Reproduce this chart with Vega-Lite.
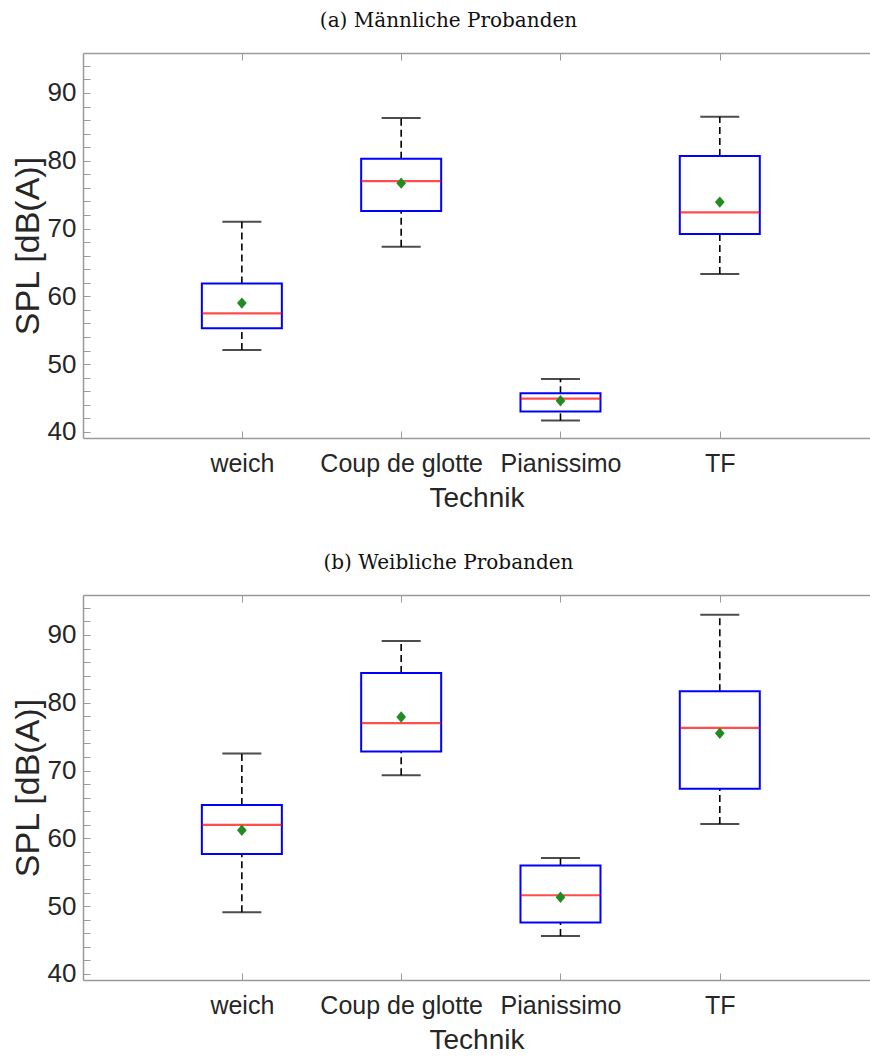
{
  "$schema": "https://vega.github.io/schema/vega-lite/v6.json",
  "padding": {"left": 11, "top": 10, "right": 0, "bottom": 0},
  "background": "white",
  "spacing": 40,
  "config": {
    "font": "Liberation Sans",
    "view": {"stroke": "transparent", "strokeWidth": 0},
    "style": {"cell": {"stroke": "transparent", "strokeWidth": 0}},
    "axis": {
      "labelFont": "Liberation Sans", "titleFont": "Liberation Sans",
      "labelColor": "#262626", "titleColor": "#262626",
      "domainColor": "#9a9a9a", "tickColor": "#9a9a9a", "domainWidth": 1.5, "tickWidth": 1,
      "grid": false, "labelFontSize": 25, "titleFontSize": 28, "titleFontWeight": "normal",
      "tickSize": -7
    },
    "axisY": {"titleFontSize": 34, "labelFontSize": 26, "labelPadding": 14, "titlePadding": 2, "domainColor": "transparent", "tickColor": "transparent"},
    "axisRight": {"domain": false, "ticks": false, "labels": false, "domainOpacity": 0, "tickOpacity": 0, "labelOpacity": 0},
    "title": {"font": "DejaVu Serif", "fontSize": 20, "fontWeight": "normal", "color": "#111111", "dx": -28, "offset": 22}
  },
  "datasets": {
    "stats": [
      {"Gruppe": "a", "Technik": "weich", "lo": 52.1, "q1": 55.3, "median": 57.5, "q3": 61.9, "hi": 71.0, "mean": 59.0},
      {"Gruppe": "a", "Technik": "Coup de glotte", "lo": 67.3, "q1": 72.6, "median": 77.0, "q3": 80.3, "hi": 86.3, "mean": 76.7},
      {"Gruppe": "a", "Technik": "Pianissimo", "lo": 41.7, "q1": 43.0, "median": 44.9, "q3": 45.7, "hi": 47.8, "mean": 44.6},
      {"Gruppe": "a", "Technik": "TF", "lo": 63.3, "q1": 69.2, "median": 72.4, "q3": 80.7, "hi": 86.5, "mean": 73.9},
      {"Gruppe": "b", "Technik": "weich", "lo": 49.1, "q1": 57.7, "median": 62.0, "q3": 64.9, "hi": 72.5, "mean": 61.2},
      {"Gruppe": "b", "Technik": "Coup de glotte", "lo": 69.3, "q1": 72.8, "median": 77.0, "q3": 84.4, "hi": 89.1, "mean": 77.9},
      {"Gruppe": "b", "Technik": "Pianissimo", "lo": 45.6, "q1": 47.6, "median": 51.6, "q3": 56.0, "hi": 57.1, "mean": 51.3},
      {"Gruppe": "b", "Technik": "TF", "lo": 62.1, "q1": 67.3, "median": 76.3, "q3": 81.7, "hi": 93.0, "mean": 75.5}
    ]
  },
  "vconcat": [
    {
      "title": {"text": "(a) Männliche Probanden"},
      "width": 787, "height": 385,
      "data": {"name": "stats"},
      "transform": [{"filter": "datum.Gruppe === 'a'"}],
      "resolve": {"axis": {"x": "independent", "y": "independent"}},
      "layer": [
        {
          "mark": {"type": "rule", "color": "black", "strokeWidth": 1.6, "strokeDash": [7, 4]},
          "encoding": {
            "x": {"field": "Technik", "type": "nominal", "sort": ["weich", "Coup de glotte", "Pianissimo", "TF"], "scale": {"type": "point", "padding": 0.97, "align": 0.514},
              "axis": {"orient": "bottom", "title": "Technik", "labelAngle": 0, "labelPadding": 20, "titlePadding": 8}},
            "y": {"field": "lo", "type": "quantitative", "scale": {"domain": [39.1, 95.9], "nice": false, "zero": false},
              "axis": {"orient": "left", "title": "SPL [dB(A)]", "domainColor": "#9a9a9a", "tickColor": "#9a9a9a", "values": [40,42,44,46,48,50,52,54,56,58,60,62,64,66,68,70,72,74,76,78,80,82,84,86,88,90,92,94], "labelExpr": "datum.value % 10 === 0 ? datum.label : ''"}},
            "y2": {"field": "q1"}
          }
        },
        {
          "mark": {"type": "rule", "color": "black", "strokeWidth": 1.6, "strokeDash": [7, 4]},
          "encoding": {
            "x": {"field": "Technik", "type": "nominal", "sort": ["weich", "Coup de glotte", "Pianissimo", "TF"], "axis": null},
            "y": {"field": "q3", "type": "quantitative", "axis": null},
            "y2": {"field": "hi"}
          }
        },
        {
          "mark": {"type": "tick", "color": "black", "size": 39, "thickness": 2},
          "encoding": {
            "x": {"field": "Technik", "type": "nominal", "sort": ["weich", "Coup de glotte", "Pianissimo", "TF"], "axis": null},
            "y": {"field": "lo", "type": "quantitative", "axis": null}
          }
        },
        {
          "mark": {"type": "tick", "color": "black", "size": 39, "thickness": 2},
          "encoding": {
            "x": {"field": "Technik", "type": "nominal", "sort": ["weich", "Coup de glotte", "Pianissimo", "TF"], "axis": null},
            "y": {"field": "hi", "type": "quantitative", "axis": null}
          }
        },
        {
          "mark": {"type": "bar", "size": 80, "fill": "white", "stroke": "#0000ff", "strokeWidth": 2},
          "encoding": {
            "x": {"field": "Technik", "type": "nominal", "sort": ["weich", "Coup de glotte", "Pianissimo", "TF"], "axis": null},
            "y": {"field": "q1", "type": "quantitative", "axis": null},
            "y2": {"field": "q3"}
          }
        },
        {
          "mark": {"type": "tick", "color": "#ff0000", "size": 80, "thickness": 2.2},
          "encoding": {
            "x": {"field": "Technik", "type": "nominal", "sort": ["weich", "Coup de glotte", "Pianissimo", "TF"],
              "axis": {"orient": "top", "labels": false, "title": null}},
            "y": {"field": "median", "type": "quantitative", "axis": null}
          }
        },
        {
          "mark": {"type": "point", "shape": "M0,-1L0.85,0L0,1L-0.85,0Z", "filled": true, "opacity": 1, "color": "#228b22", "size": 130},
          "encoding": {
            "x": {"field": "Technik", "type": "nominal", "sort": ["weich", "Coup de glotte", "Pianissimo", "TF"], "axis": null},
            "y": {"field": "mean", "type": "quantitative", "axis": null}
          }
        }
      ]
    },
    {
      "title": {"text": "(b) Weibliche Probanden"},
      "width": 787, "height": 385,
      "data": {"name": "stats"},
      "transform": [{"filter": "datum.Gruppe === 'b'"}],
      "resolve": {"axis": {"x": "independent", "y": "independent"}},
      "layer": [
        {
          "mark": {"type": "rule", "color": "black", "strokeWidth": 1.6, "strokeDash": [7, 4]},
          "encoding": {
            "x": {"field": "Technik", "type": "nominal", "sort": ["weich", "Coup de glotte", "Pianissimo", "TF"], "scale": {"type": "point", "padding": 0.97, "align": 0.514},
              "axis": {"orient": "bottom", "title": "Technik", "labelAngle": 0, "labelPadding": 20, "titlePadding": 8}},
            "y": {"field": "lo", "type": "quantitative", "scale": {"domain": [39.1, 95.9], "nice": false, "zero": false},
              "axis": {"orient": "left", "title": "SPL [dB(A)]", "domainColor": "#9a9a9a", "tickColor": "#9a9a9a", "values": [40,42,44,46,48,50,52,54,56,58,60,62,64,66,68,70,72,74,76,78,80,82,84,86,88,90,92,94], "labelExpr": "datum.value % 10 === 0 ? datum.label : ''"}},
            "y2": {"field": "q1"}
          }
        },
        {
          "mark": {"type": "rule", "color": "black", "strokeWidth": 1.6, "strokeDash": [7, 4]},
          "encoding": {
            "x": {"field": "Technik", "type": "nominal", "sort": ["weich", "Coup de glotte", "Pianissimo", "TF"], "axis": null},
            "y": {"field": "q3", "type": "quantitative", "axis": null},
            "y2": {"field": "hi"}
          }
        },
        {
          "mark": {"type": "tick", "color": "black", "size": 39, "thickness": 2},
          "encoding": {
            "x": {"field": "Technik", "type": "nominal", "sort": ["weich", "Coup de glotte", "Pianissimo", "TF"], "axis": null},
            "y": {"field": "lo", "type": "quantitative", "axis": null}
          }
        },
        {
          "mark": {"type": "tick", "color": "black", "size": 39, "thickness": 2},
          "encoding": {
            "x": {"field": "Technik", "type": "nominal", "sort": ["weich", "Coup de glotte", "Pianissimo", "TF"], "axis": null},
            "y": {"field": "hi", "type": "quantitative", "axis": null}
          }
        },
        {
          "mark": {"type": "bar", "size": 80, "fill": "white", "stroke": "#0000ff", "strokeWidth": 2},
          "encoding": {
            "x": {"field": "Technik", "type": "nominal", "sort": ["weich", "Coup de glotte", "Pianissimo", "TF"], "axis": null},
            "y": {"field": "q1", "type": "quantitative", "axis": null},
            "y2": {"field": "q3"}
          }
        },
        {
          "mark": {"type": "tick", "color": "#ff0000", "size": 80, "thickness": 2.2},
          "encoding": {
            "x": {"field": "Technik", "type": "nominal", "sort": ["weich", "Coup de glotte", "Pianissimo", "TF"],
              "axis": {"orient": "top", "labels": false, "title": null}},
            "y": {"field": "median", "type": "quantitative", "axis": null}
          }
        },
        {
          "mark": {"type": "point", "shape": "M0,-1L0.85,0L0,1L-0.85,0Z", "filled": true, "opacity": 1, "color": "#228b22", "size": 130},
          "encoding": {
            "x": {"field": "Technik", "type": "nominal", "sort": ["weich", "Coup de glotte", "Pianissimo", "TF"], "axis": null},
            "y": {"field": "mean", "type": "quantitative", "axis": null}
          }
        }
      ]
    }
  ]
}
